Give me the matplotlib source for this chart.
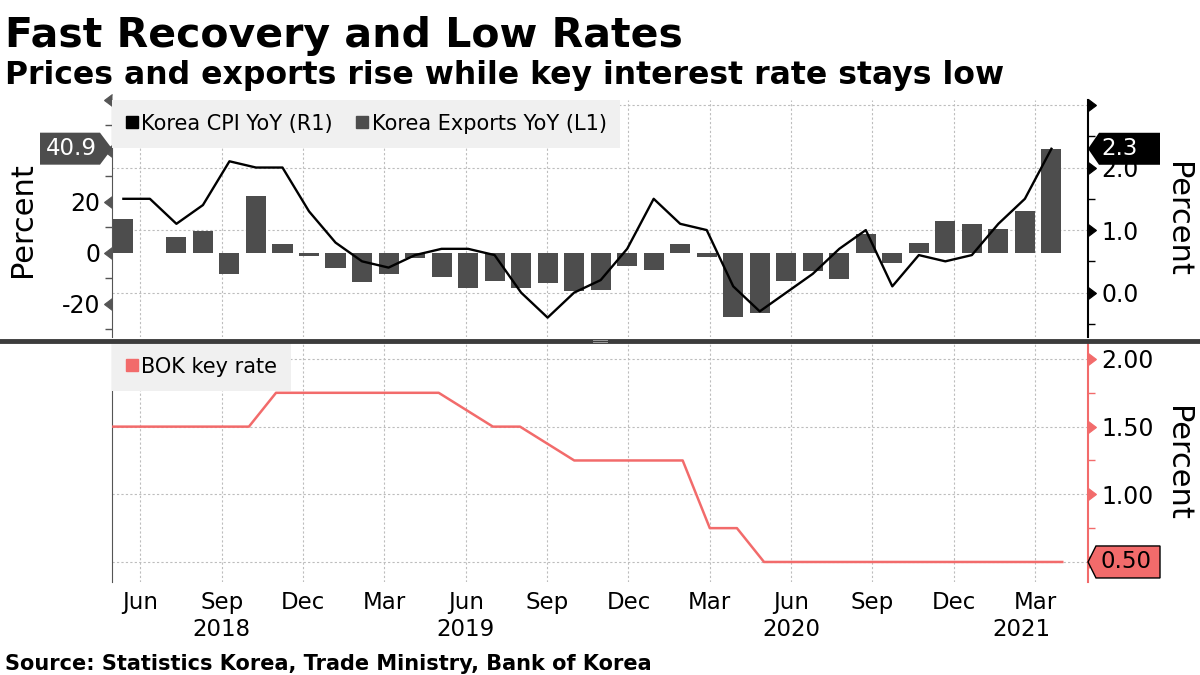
import numpy as np
import matplotlib
matplotlib.use('Agg')
import matplotlib.pyplot as plt
from matplotlib import markers
from matplotlib.lines import Line2D
from matplotlib.patches import Polygon
from matplotlib.transforms import Affine2D, ScaledTranslation, blended_transform_factory

# Monthly data, May 2018 .. Apr 2021
exports = [13.3, -0.1, 6.2, 8.6, -8.2, 22.4, 3.5, -1.4, -6.1, -11.3, -8.2, -2.0,
           -9.6, -13.7, -11.0, -13.8, -11.8, -14.8, -14.4, -5.2, -6.6, 3.4, -1.7, -25.3,
           -23.6, -11.0, -7.1, -10.2, 7.4, -3.9, 3.9, 12.4, 11.3, 9.2, 16.4, 40.9]
cpi = [1.5, 1.5, 1.1, 1.4, 2.1, 2.0, 2.0, 1.3, 0.8, 0.5, 0.4, 0.6,
       0.7, 0.7, 0.6, 0.0, -0.4, 0.0, 0.2, 0.7, 1.5, 1.1, 1.0, 0.1,
       -0.3, 0.0, 0.3, 0.7, 1.0, 0.1, 0.6, 0.5, 0.6, 1.1, 1.5, 2.3]
bok_rate = [1.50, 1.50, 1.50, 1.50, 1.50, 1.50, 1.75, 1.75, 1.75, 1.75, 1.75, 1.75,
            1.75, 1.625, 1.50, 1.50, 1.375, 1.25, 1.25, 1.25, 1.25, 1.25, 0.75, 0.75,
            0.50, 0.50, 0.50, 0.50, 0.50, 0.50, 0.50, 0.50, 0.50, 0.50, 0.50, 0.50]

month_labels = ['Jun', 'Sep', 'Dec', 'Mar', 'Jun', 'Sep', 'Dec', 'Mar', 'Jun', 'Sep', 'Dec', 'Mar']
year_labels = ['2018', '2019', '2020', '2021']
year_at = [4, 13, 25, 33.5]   # month index the year label sits under

RED = '#f26b6b'
BAR = '#4d4d4d'
GRID = dict(color='#bdbdbd', lw=0.8, ls=(0, (2, 2)))

n = len(exports)
month_x = np.arange(n)            # month index, 0 = May 2018
tick_x = np.arange(1, n - 1, 3)   # Jun, Sep, Dec, Mar ...
# the bars sit in even slots that are slightly tighter than the month grid
bar_offset, bar_step = 0.37, 0.978
bar_x = bar_offset + bar_step * month_x

fig = plt.figure(figsize=(12, 6.75), dpi=100)
ax1 = fig.add_axes([112/1200, 1 - 337/675, 976/1200, 237/675])
ax2 = fig.add_axes([112/1200, 1 - 582/675, 976/1200, 239/675], sharex=ax1)
ax1r = ax1.twinx()

# top panel
ax1.bar(bar_x, exports, width=0.74, color=BAR, zorder=2)
ax1r.plot(bar_x, cpi, color='black', lw=1.7, zorder=3)
ax1.set_ylim(-33, 60)
ax1r.set_ylim(-0.71, 3.08)

# bottom panel
ax2.plot(month_x, bok_rate, color=RED, lw=1.8, zorder=6)
ax2.set_ylim(0.352, 2.118)
ax2.set_xlim(-0.05, 35.95)

ax2.set_xticks(tick_x, month_labels)
ax1.tick_params(axis='x', labelbottom=False, length=0)
ax2.tick_params(axis='x', length=0, pad=6.5, labelsize=16.5)
for x, yl in zip(year_at, year_labels):
    ax2.text(x, -0.2, yl, transform=blended_transform_factory(ax2.transData, ax2.transAxes),
             ha='center', va='center', fontsize=16.5)

# grids
ax1.set_axisbelow(True)
ax1.grid(axis='x', **GRID)
right_grid = [0, 1, 2, 3]
for v in right_grid:
    ax1.plot([0, 1], [v, v], transform=blended_transform_factory(ax1.transAxes, ax1r.transData),
             zorder=0.5, **GRID)
ax2.set_axisbelow(True)
ax2.grid(True, **GRID)

# y ticks
ax1.set_yticks([-20, 0, 20, 40, 60], ['-20', '0', '20', '', ''])
ax1.set_yticks([-30, -10, 10, 30, 50], minor=True)
ax1r.set_yticks(right_grid, ['0.0', '1.0', '2.0', ''])
ax1r.set_yticks([-0.5, 0.5, 1.5, 2.5], minor=True)
ax2.yaxis.tick_right()
ax2.set_yticks([0.5, 1.0, 1.5, 2.0], ['', '1.00', '1.50', '2.00'])
ax2.set_yticks([0.75, 1.25, 1.75], minor=True)

ax1.tick_params(axis='y', which='major', length=0, pad=8.6, labelsize=17)
ax1.tick_params(axis='y', which='minor', length=5, width=1, color='#555555')
ax1r.tick_params(axis='y', which='major', length=0, pad=9.4, labelsize=17)
ax1r.tick_params(axis='y', which='minor', length=5, width=1, color='black')
ax2.tick_params(axis='y', which='major', length=0, pad=9.4, labelsize=17)
ax2.tick_params(axis='y', which='minor', length=5, width=1, color=RED)


def caret_ticks(axis, marker, color):
    for t in axis.get_major_ticks():
        for ln in (t.tick1line, t.tick2line):
            ln.set_marker(marker)
            ln.set_markersize(8)
            ln.set_markerfacecolor(color)
            ln.set_markeredgecolor(color)


caret_ticks(ax1.yaxis, markers.CARETLEFTBASE, '#555555')
caret_ticks(ax1r.yaxis, markers.CARETRIGHTBASE, 'black')
caret_ticks(ax2.yaxis, markers.CARETRIGHTBASE, RED)

# spines
for s in ['top', 'bottom', 'right']:
    ax1.spines[s].set_visible(False)
for s in ['top', 'bottom', 'left']:
    ax1r.spines[s].set_visible(False)
for s in ['top', 'bottom']:
    ax2.spines[s].set_visible(False)
ax1.spines['left'].set_color('#555555')
ax2.spines['left'].set_color('#555555')
ax1r.spines['right'].set_linewidth(1.5)
ax2.spines['right'].set_color(RED)
ax2.spines['right'].set_linewidth(1.5)

# axis titles
ax1.text(-0.092, 0.494, 'Percent', transform=ax1.transAxes, rotation=90, ha='center', va='center', fontsize=22)
ax1r.text(1.092, 0.494, 'Percent', transform=ax1r.transAxes, rotation=-90, ha='center', va='center', fontsize=22)
ax2.text(1.092, 0.494, 'Percent', transform=ax2.transAxes, rotation=-90, ha='center', va='center', fontsize=22)

# legends
leg_kw = dict(loc='upper left', bbox_to_anchor=(0, 1), frameon=True, fancybox=False,
              facecolor='#f0f0f0', edgecolor='none', framealpha=1, fontsize=15,
              borderaxespad=0, borderpad=0.66, handlelength=0.6, handletextpad=0.15,
              columnspacing=1.1)
h_cpi = Line2D([], [], ls='none', marker='s', ms=9, color='black', label='Korea CPI YoY (R1)')
h_exp = Line2D([], [], ls='none', marker='s', ms=9, color=BAR, label='Korea Exports YoY (L1)')
ax1r.legend(handles=[h_cpi, h_exp], ncol=2, **leg_kw)
h_bok = Line2D([], [], ls='none', marker='s', ms=9, color=RED, label='BOK key rate')
ax2.legend(handles=[h_bok], **leg_kw)


# value tags at the axis edges
def tag(ax, ytrans, yval, side, text, fc, tc, ec='none', tip=11):
    s = -1 if side == 'left' else 1
    base = blended_transform_factory(ax.transAxes, ytrans)
    tr = Affine2D().scale(fig.dpi / 100) + ScaledTranslation(0 if side == 'left' else 1, yval, base)
    verts = [(0, 0), (s * tip, 16), (s * 72, 16), (s * 72, -16), (s * tip, -16)]
    fig.add_artist(Polygon(verts, closed=True, transform=tr, fc=fc, ec=ec, lw=1, zorder=5))
    if side == 'left':
        fig.text(-41, 0, text, transform=tr, ha='center', va='center', color=tc, fontsize=16.5, zorder=6)
    else:
        fig.text(13, 0, text, transform=tr, ha='left', va='center', color=tc, fontsize=16.5, zorder=6)


tag(ax1, ax1.transData, exports[-1], 'left', f'{exports[-1]:.1f}', BAR, 'white', tip=12)
tag(ax1r, ax1r.transData, cpi[-1], 'right', f'{cpi[-1]:.1f}', 'black', 'white')
tag(ax2, ax2.transData, bok_rate[-1], 'right', f'{bok_rate[-1]:.2f}', RED, 'black', ec='black', tip=8)

# divider between the panels
fig.add_artist(Line2D([0, 1], [1 - 341/675] * 2, transform=fig.transFigure, color='#3c3c3c', lw=3.5))
for dy in (-1.2, 1.2):
    fig.add_artist(Line2D([593/1200, 607/1200], [1 - (341 + dy)/675] * 2, transform=fig.transFigure,
                          color='#9a9a9a', lw=0.7))

# titles and source
fig.text(5/1200, 1 - 47/675, 'Fast Recovery and Low Rates', fontsize=29.5, fontweight='bold', va='baseline')
fig.text(5/1200, 1 - 84/675, 'Prices and exports rise while key interest rate stays low',
         fontsize=22.7, fontweight='bold', va='baseline')
fig.text(5/1200, 1 - 670/675, 'Source: Statistics Korea, Trade Ministry, Bank of Korea',
         fontsize=15, fontweight='bold', va='baseline')

fig.savefig('out.png', dpi=100)
